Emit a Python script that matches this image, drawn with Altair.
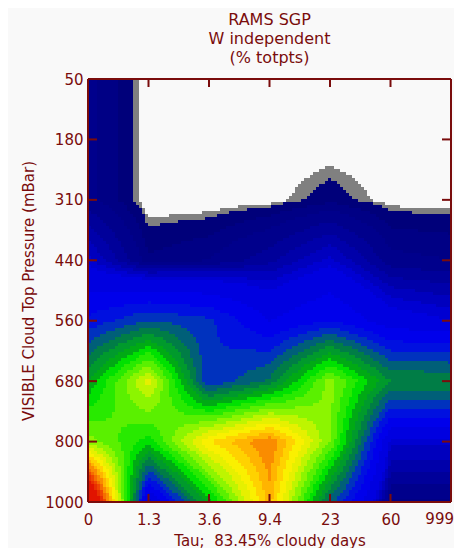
import altair as alt
import numpy as np
import pandas as pd

tau_labels = ["0", "1.3", "3.6", "9.4", "23", "60", ""]
last_tau_label = ["999"]
pressure_labels = ["50", "180", "310", "440", "560", "680", "800", "1000"]

# values, one list per pressure level (relative colour level)
row_50 = [0.03, 0, 0, 0, 0, 0, 0]
row_180 = [0.03, 0, 0, 0, 0, 0, 0]
row_310 = [0.03, 0, 0, 0.002, 0.0114, 0.002, 0.002]
row_440 = [0.09, 0.0167, 0.025, 0.05, 0.09, 0.03, 0.025]
row_560 = [0.21, 0.28, 0.25, 0.15, 0.20, 0.12, 0.10]
row_680 = [0.40, 0.66, 0.24, 0.33, 0.58, 0.36, 0.36]
row_800 = [0.58, 0.46, 0.72, 0.84, 0.56, 0.09, 0.09]
row_1000 = [1.20, 0.08, 0.42, 0.78, 0.30, 0.02, 0.02]

band_edges = [0.005, 0.0075, 0.015, 0.025, 0.04, 0.055, 0.07, 0.085, 0.1, 0.15, 0.2, 0.24, 0.28, 0.32, 0.36, 0.4,
              0.44, 0.48, 0.52, 0.56, 0.6, 0.64, 0.68, 0.72, 0.76, 0.8, 0.84, 0.88, 0.92, 0.96]
band_colors = ["#f9f9f9", "#808080", "#00007a", "#000085", "#00008c", "#00009a", "#0000aa", "#0000be", "#0000d2",
               "#0000e0", "#0000eb", "#0010e0", "#0032be", "#005f78", "#007d46", "#009a2c", "#00aa14", "#00e100",
               "#28ea00", "#5af000", "#8cf500", "#bef500", "#e6f000", "#faf000", "#ffd200", "#ffb400",
               "#fa8c00", "#f56e00", "#f04600", "#e83000", "#e11400"]

INK = "#7a0c0c"
PLOT_W, PLOT_H = 363, 423
CELL = 3

grid = np.array([row_50, row_180, row_310, row_440, row_560, row_680, row_800, row_1000], dtype=float)
nx, ny = PLOT_W // CELL, PLOT_H // CELL
xs = np.linspace(0, 6, nx + 1)
ys = np.linspace(0, 7, ny + 1)
xc, yc = (xs[:-1] + xs[1:]) / 2, (ys[:-1] + ys[1:]) / 2
X, Y = np.meshgrid(xc, yc)
i, j = np.minimum(X.astype(int), 5), np.minimum(Y.astype(int), 6)
fx, fy = X - i, Y - j
shade = (grid[j, i] * (1 - fx) * (1 - fy) + grid[j, i + 1] * fx * (1 - fy)
         + grid[j + 1, i] * (1 - fx) * fy + grid[j + 1, i + 1] * fx * fy)
X0, Y0 = np.meshgrid(xs[:-1], ys[:-1])
X1, Y1 = np.meshgrid(xs[1:], ys[1:])
field = pd.DataFrame({"x0": X0.ravel(), "x1": X1.ravel(), "y0": Y0.ravel(), "y1": Y1.ravel(), "v": shade.ravel()})
field = field[field.v >= band_edges[0]]

x_scale = alt.Scale(domain=[0, 6], nice=False, zero=False)
y_scale = alt.Scale(domain=[7, 0], nice=False, zero=False)

label_style = dict(labelColor=INK, titleColor=INK, labelFont="DejaVu Sans", titleFont="DejaVu Sans",
                   labelFontSize=15, titleFontWeight="normal", grid=False,
                   domain=False, ticks=False)

x_expr = "[" + ",".join(f"'{s}'" for s in tau_labels) + "][datum.value]"
y_expr = "[" + ",".join(f"'{s}'" for s in pressure_labels) + "][datum.value]"
x_axis = alt.Axis(values=list(range(7)), labelExpr=x_expr, title="Tau;\u00a0\u00a083.45% cloudy days", titleFontSize=15,
                  labelPadding=10, titlePadding=6, labelFlush=False, labelOverlap=False, **label_style)
y_axis = alt.Axis(values=list(range(8)), labelExpr=y_expr, title="VISIBLE Cloud Top Pressure (mBar)", titleFontSize=15,
                  labelPadding=5, titlePadding=8, labelOverlap=False, **label_style)

heat = alt.Chart(field).mark_rect(strokeWidth=0).encode(
    x=alt.X("x0:Q", scale=x_scale, axis=x_axis),
    x2="x1:Q",
    y=alt.Y("y0:Q", scale=y_scale, axis=y_axis),
    y2="y1:Q",
    color=alt.Color("v:Q", legend=None, scale=alt.Scale(type="threshold", domain=band_edges[1:], range=band_colors[1:])),
)

inner_x = pd.DataFrame({"p": [1, 2, 3, 4, 5]})
inner_y = pd.DataFrame({"p": [1, 2, 3, 4, 5, 6]})
ends_x = pd.DataFrame({"p": [0, 6]})
ends_y = pd.DataFrame({"p": [0, 7]})
rule = dict(color=INK, strokeWidth=2)
xq = alt.X("p:Q", scale=x_scale, axis=x_axis)
yq = alt.Y("p:Q", scale=y_scale, axis=y_axis)

last_label = alt.Chart(pd.DataFrame({"p": [6], "t": last_tau_label})).mark_text(
    color=INK, font="DejaVu Sans", fontSize=15, align="right", dx=3, baseline="top"
).encode(x=xq, y=alt.value(PLOT_H + 10), text="t:N")

layers = [
    heat,
    alt.Chart(inner_x).mark_rule(**rule).encode(x=xq, y=alt.value(0), y2=alt.value(8)),
    alt.Chart(inner_x).mark_rule(**rule).encode(x=xq, y=alt.value(PLOT_H - 8), y2=alt.value(PLOT_H)),
    alt.Chart(inner_y).mark_rule(**rule).encode(y=yq, x=alt.value(0), x2=alt.value(9)),
    alt.Chart(inner_y).mark_rule(**rule).encode(y=yq, x=alt.value(PLOT_W - 9), x2=alt.value(PLOT_W)),
    alt.Chart(ends_x).mark_rule(**rule).encode(x=xq, y=alt.value(0), y2=alt.value(PLOT_H)),
    alt.Chart(ends_y).mark_rule(**rule).encode(y=yq, x=alt.value(0), x2=alt.value(PLOT_W)),
    last_label,
]

chart = alt.layer(*layers).properties(
    width=PLOT_W, height=PLOT_H,
    title=alt.Title(["RAMS SGP", "W independent", "(% totpts)"], color=INK, font="DejaVu Sans", fontSize=16,
                    fontWeight="normal", lineHeight=19, anchor="middle", offset=6),
    background="#f9f9f9",
    padding={"left": 80, "top": 71, "right": 3, "bottom": 46},
    autosize=alt.AutoSizeParams(type="none"),
).configure_view(stroke=None)

chart.save("out.html", embed_options={"renderer": "svg", "actions": False})
